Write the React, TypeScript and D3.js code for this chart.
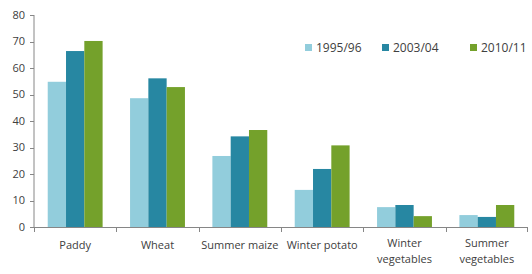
import React from "react";
import * as d3 from "d3";

const categories = ["Paddy", "Wheat", "Summer maize", "Winter potato", "Winter\nvegetables", "Summer\nvegetables"];
const seriesNames = ["1995/96", "2003/04", "2010/11"];
const s1995 = [54.8, 48.6, 26.8, 14.0, 7.5, 4.5];
const s2003 = [66.4, 56.1, 34.2, 21.9, 8.3, 3.8];
const s2010 = [70.2, 52.8, 36.6, 30.8, 4.1, 8.3];
const yTicks = [0, 10, 20, 30, 40, 50, 60, 70, 80];
const colors = ["#92CDDC", "#2787A2", "#74A12B"];

export default function App() {
  const W = 532, H = 274;
  const left = 34, right = 528, top = 15, bottom = 227;
  const x = d3.scaleBand<string>().domain(categories).range([left, right]).paddingInner(0).paddingOuter(0);
  const y = d3.scaleLinear().domain([0, 80]).range([bottom, top]);
  const bw = x.bandwidth();
  const barW = bw / 4.5;
  const groupOff = (bw - barW * 3) / 2;
  const data = [s1995, s2003, s2010];
  const font = "'Open Sans', 'DejaVu Sans', sans-serif";
  const axisColor = "#868686";
  const textColor = "#404040";
  const legendX = [305, 382, 470];
  return (
    <svg width={W} height={H} style={{ position: "absolute", left: 0, top: 0, background: "#fff" }} fontFamily={font}>
      {data.map((vals, si) =>
        vals.map((v, ci) => (
          <rect key={`${si}-${ci}`} x={x(categories[ci])! + groupOff + si * barW} y={y(v)} width={barW} height={y(0) - y(v)} fill={colors[si]} />
        ))
      )}
      <line x1={left} x2={left} y1={top} y2={bottom} stroke={axisColor} />
      <line x1={left} x2={right} y1={bottom + 0.5} y2={bottom + 0.5} stroke={axisColor} />
      {yTicks.map((t) => (
        <g key={t}>
          <line x1={left - 4} x2={left} y1={Math.round(y(t)) + 0.5} y2={Math.round(y(t)) + 0.5} stroke={axisColor} />
          <text x={left - 9} y={y(t)} dy="0.35em" textAnchor="end" fontSize={11} fill={textColor}>{t}</text>
        </g>
      ))}
      {categories.map((c, i) => (
        <line key={"t" + i} x1={Math.round(x(c)!) + 0.5} x2={Math.round(x(c)!) + 0.5} y1={bottom} y2={bottom + 5} stroke={axisColor} />
      ))}
      <line x1={right - 0.5} x2={right - 0.5} y1={bottom} y2={bottom + 5} stroke={axisColor} />
      {categories.map((c) => {
        const lines = c.split("\n");
        return (
          <text key={c} x={x(c)! + bw / 2} y={lines.length === 1 ? 245 : 243} textAnchor="middle" fontSize={11} fill={textColor}>
            {lines.map((l, li) => (
              <tspan key={li} x={x(c)! + bw / 2} dy={li === 0 ? "0.35em" : 16}>{l}</tspan>
            ))}
          </text>
        );
      })}
      {seriesNames.map((s, i) => (
        <g key={s}>
          <rect x={legendX[i]} y={44} width={7} height={7} fill={colors[i]} />
          <text x={legendX[i] + 11} y={48} dy="0.35em" fontSize={12} fill={textColor}>{s}</text>
        </g>
      ))}
    </svg>
  );
}
